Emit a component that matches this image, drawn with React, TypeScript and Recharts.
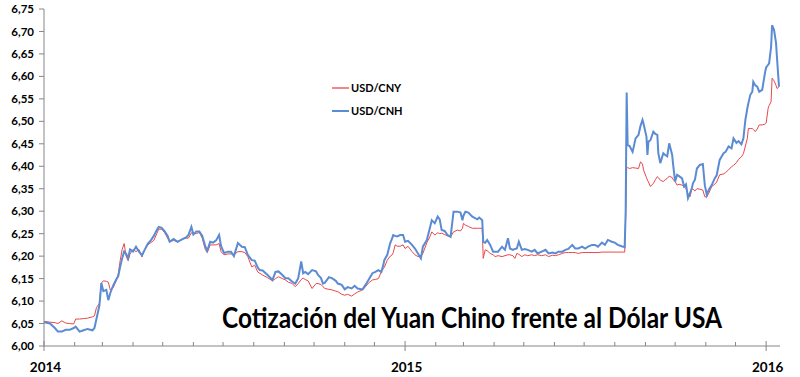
import React from 'react';
import { LineChart, Line, XAxis, YAxis, Legend } from 'recharts';

// days since 2014-01-01
const days = [
  0, 6, 11, 14, 18, 22, 26, 30, 32, 36,
  40, 44, 49, 51, 53, 56, 58, 60, 63, 65,
  67, 70, 73, 75, 77, 79, 81, 83, 85, 87,
  90, 93, 96, 99, 102, 105, 108, 111, 114, 116,
  119, 122, 125, 127, 131, 135, 140, 144, 146, 149,
  151, 154, 157, 160, 163, 165, 168, 171, 174, 177,
  179, 182, 186, 189, 192, 196, 200, 203, 206, 210,
  213, 216, 218, 221, 226, 231, 234, 237, 241, 244,
  247, 251, 254, 257, 260, 262, 264, 267, 271, 275,
  277, 280, 282, 284, 288, 291, 295, 297, 301, 304,
  307, 311, 314, 317, 322, 325, 328, 332, 335, 338,
  341, 343, 344, 347, 350, 352, 353, 355, 357, 360,
  363, 365, 368, 372, 375, 378, 381, 383, 387, 390,
  392, 395, 398, 400, 402, 405, 408, 411, 414, 418,
  421, 423, 424, 426, 429, 433, 438, 440, 443, 444,
  446, 448, 451, 454, 456, 459, 463, 466, 469, 471,
  474, 476, 478, 480, 483, 486, 489, 493, 496, 499,
  503, 507, 510, 514, 517, 520, 524, 527, 530, 534,
  537, 540, 544, 547, 550, 554, 557, 560, 564, 567,
  570, 574, 577, 580, 584, 587, 588, 589, 590, 592,
  595, 598, 601, 603, 605, 606, 609, 610, 611, 613,
  616, 618, 620, 621, 623, 626, 628, 630, 632, 635,
  636, 638, 640, 642, 645, 647, 649, 651, 653, 655,
  656, 658, 660, 663, 666, 668, 670, 672, 675, 678,
  680, 683, 687, 689, 692, 695, 697, 700, 702, 705,
  707, 709, 711, 712, 714, 716, 717, 719, 721, 723,
  726, 729, 730, 732, 733, 735, 736, 738, 740, 741, 743,
];

const cny = [
  6.055, 6.053, 6.052, 6.050, 6.056, 6.051, 6.050, 6.049, 6.060, 6.060,
  6.061, 6.062, 6.065, 6.067, 6.085, 6.095, 6.140, 6.145, 6.144, 6.142,
  6.125, 6.130, 6.145, 6.160, 6.190, 6.215, 6.228, 6.200, 6.190, 6.205,
  6.215, 6.210, 6.215, 6.198, 6.215, 6.225, 6.230, 6.235, 6.250, 6.260,
  6.260, 6.252, 6.240, 6.232, 6.235, 6.232, 6.238, 6.240, 6.240, 6.252,
  6.250, 6.250, 6.253, 6.240, 6.215, 6.208, 6.225, 6.225, 6.225, 6.228,
  6.210, 6.203, 6.205, 6.205, 6.203, 6.210, 6.210, 6.208, 6.199, 6.176,
  6.180, 6.165, 6.162, 6.158, 6.152, 6.145, 6.150, 6.154, 6.150, 6.147,
  6.142, 6.139, 6.132, 6.139, 6.148, 6.151, 6.148, 6.145, 6.128, 6.139,
  6.139, 6.137, 6.132, 6.128, 6.126, 6.125, 6.122, 6.121, 6.115, 6.113,
  6.115, 6.111, 6.116, 6.120, 6.125, 6.132, 6.140, 6.147, 6.148, 6.150,
  6.165, 6.172, 6.175, 6.191, 6.200, 6.203, 6.208, 6.225, 6.222, 6.222,
  6.225, 6.217, 6.222, 6.210, 6.203, 6.199, 6.199, 6.206, 6.230, 6.243,
  6.254, 6.247, 6.252, 6.250, 6.251, 6.248, 6.245, 6.243, 6.254, 6.258,
  6.256, 6.262, 6.273, 6.269, 6.266, 6.262, 6.262, 6.262, 6.262, 6.195,
  6.214, 6.212, 6.206, 6.203, 6.199, 6.201, 6.199, 6.201, 6.203, 6.203,
  6.201, 6.195, 6.206, 6.204, 6.199, 6.203, 6.201, 6.203, 6.201, 6.203,
  6.201, 6.203, 6.199, 6.202, 6.201, 6.203, 6.206, 6.208, 6.208, 6.208,
  6.208, 6.206, 6.208, 6.208, 6.208, 6.208, 6.208, 6.208, 6.209, 6.209,
  6.209, 6.209, 6.209, 6.209, 6.209, 6.209, 6.290, 6.395, 6.397, 6.395,
  6.397, 6.396, 6.395, 6.410, 6.405, 6.392, 6.375, 6.369, 6.365, 6.355,
  6.362, 6.370, 6.377, 6.375, 6.369, 6.366, 6.370, 6.373, 6.378, 6.375,
  6.370, 6.366, 6.358, 6.360, 6.358, 6.355, 6.350, 6.338, 6.332, 6.350,
  6.349, 6.345, 6.350, 6.349, 6.347, 6.332, 6.332, 6.340, 6.355, 6.360,
  6.365, 6.381, 6.383, 6.386, 6.392, 6.399, 6.402, 6.408, 6.415, 6.421,
  6.428, 6.445, 6.462, 6.484, 6.484, 6.484, 6.482, 6.477, 6.483, 6.492,
  6.492, 6.494, 6.496, 6.529, 6.535, 6.544, 6.596, 6.590, 6.580, 6.573, 6.577,
];

const cnh = [
  6.053, 6.050, 6.040, 6.032, 6.032, 6.036, 6.036, 6.040, 6.043, 6.032,
  6.035, 6.038, 6.035, 6.040, 6.060, 6.090, 6.140, 6.122, 6.125, 6.102,
  6.118, 6.135, 6.148, 6.155, 6.176, 6.195, 6.210, 6.205, 6.195, 6.215,
  6.210, 6.221, 6.210, 6.202, 6.215, 6.228, 6.235, 6.245, 6.258, 6.265,
  6.263, 6.255, 6.245, 6.232, 6.238, 6.232, 6.238, 6.242, 6.247, 6.265,
  6.248, 6.255, 6.255, 6.245, 6.222, 6.212, 6.232, 6.230, 6.235, 6.247,
  6.222, 6.207, 6.210, 6.210, 6.200, 6.229, 6.221, 6.220, 6.203, 6.191,
  6.190, 6.175, 6.169, 6.168, 6.158, 6.147, 6.165, 6.166, 6.158, 6.151,
  6.151, 6.143, 6.139, 6.151, 6.188, 6.162, 6.165, 6.160, 6.169, 6.166,
  6.158, 6.151, 6.139, 6.141, 6.153, 6.151, 6.145, 6.139, 6.136, 6.126,
  6.131, 6.128, 6.134, 6.128, 6.126, 6.136, 6.147, 6.162, 6.165, 6.169,
  6.165, 6.180, 6.191, 6.203, 6.229, 6.240, 6.247, 6.245, 6.244, 6.247,
  6.247, 6.232, 6.234, 6.225, 6.217, 6.206, 6.195, 6.221, 6.236, 6.262,
  6.280, 6.273, 6.288, 6.282, 6.258, 6.256, 6.247, 6.243, 6.299, 6.299,
  6.297, 6.280, 6.290, 6.299, 6.297, 6.288, 6.282, 6.286, 6.280, 6.232,
  6.230, 6.236, 6.225, 6.210, 6.210, 6.210, 6.221, 6.214, 6.240, 6.217,
  6.214, 6.216, 6.217, 6.232, 6.214, 6.216, 6.214, 6.210, 6.214, 6.206,
  6.210, 6.214, 6.206, 6.208, 6.206, 6.210, 6.210, 6.214, 6.216, 6.225,
  6.217, 6.217, 6.221, 6.217, 6.221, 6.225, 6.225, 6.221, 6.230, 6.225,
  6.236, 6.232, 6.230, 6.225, 6.222, 6.220, 6.300, 6.564, 6.447, 6.445,
  6.432, 6.462, 6.470, 6.490, 6.503, 6.495, 6.466, 6.425, 6.455, 6.458,
  6.477, 6.472, 6.470, 6.429, 6.407, 6.429, 6.425, 6.422, 6.451, 6.425,
  6.403, 6.366, 6.381, 6.378, 6.373, 6.355, 6.360, 6.329, 6.340, 6.352,
  6.362, 6.370, 6.395, 6.403, 6.405, 6.358, 6.336, 6.348, 6.358, 6.373,
  6.380, 6.414, 6.429, 6.432, 6.444, 6.440, 6.462, 6.452, 6.456, 6.449,
  6.462, 6.503, 6.529, 6.540, 6.559, 6.566, 6.588, 6.580, 6.577, 6.566,
  6.570, 6.610, 6.620, 6.626, 6.629, 6.666, 6.714, 6.703, 6.674, 6.640, 6.577,
];

const seriesNames = ['USD/CNY', 'USD/CNH'];
const yearLabels = ['2014', '2015', '2016'];
const yTicks = [6.0, 6.05, 6.1, 6.15, 6.2, 6.25, 6.3, 6.35, 6.4, 6.45, 6.5, 6.55, 6.6, 6.65, 6.7, 6.75];
const titleText = 'Cotización del Yuan Chino frente al Dólar USA';

const RED = '#E8474C';
const BLUE = '#5B8BD3';
const AXIS = '#868686';
const FONT = 'Lato, "Open Sans", sans-serif';

const rows = days.map((d, i) => ({ day: d, cny: cny[i], cnh: cnh[i] }));

const base = Date.UTC(2014, 0, 1);
const monthTicks = Array.from({ length: 25 }, (_, i) =>
  Math.round((Date.UTC(2014 + Math.floor(i / 12), i % 12, 1) - base) / 86400000)
);

const XTick = (props: any) => {
  const { x, y, payload } = props;
  const idx = monthTicks.indexOf(payload.value);
  const major = idx % 12 === 0;
  return (
    <g>
      <line x1={x} x2={x} y1={major ? y - 5 : y - 4} y2={major ? y + 5 : y} stroke={AXIS} strokeWidth={1} />
      {major && (
        <text x={x + 1.5} y={y + 26} textAnchor="middle" fontFamily={FONT} fontWeight={700} fontSize={13.5} fill="#000">
          {yearLabels[idx / 12]}
        </text>
      )}
    </g>
  );
};

const LegendContent = () => {
  const colors = [RED, BLUE];
  const widths = [1.3, 2];
  return (
    <div style={{ position: 'relative', width: 90, height: 40 }}>
      {seriesNames.map((name, i) => (
        <div
          key={name}
          style={{ position: 'absolute', left: 0, top: i * 22.5, height: 12, display: 'flex', alignItems: 'center' }}
        >
          <svg width={17} height={12} style={{ display: 'block' }}>
            <line x1={0} x2={17} y1={6} y2={6} stroke={colors[i]} strokeWidth={widths[i]} />
          </svg>
          <span style={{ fontFamily: FONT, fontWeight: 700, fontSize: 11, color: '#000', marginLeft: 2, lineHeight: '12px', whiteSpace: 'nowrap' }}>
            {name}
          </span>
        </div>
      ))}
    </div>
  );
};

export default function App() {
  return (
    <div style={{ position: 'absolute', left: 0, top: 0, width: 800, height: 377, background: '#fff' }}>
      <LineChart width={800} height={377} data={rows} margin={{ top: 9, right: 20, bottom: 1, left: 0 }}>
        <XAxis
          dataKey="day"
          type="number"
          domain={[0, 744]}
          ticks={monthTicks}
          interval={0}
          tick={<XTick />}
          tickLine={false}
          tickSize={0}
          tickMargin={0}
          height={30}
          stroke={AXIS}
          allowDataOverflow
        />
        <YAxis
          type="number"
          domain={[6, 6.75]}
          ticks={yTicks}
          interval={0}
          width={44}
          stroke={AXIS}
          tickSize={5}
          tickMargin={5}
          tickFormatter={(v: number) => v.toFixed(2).replace('.', ',')}
          tick={{ fill: '#000', fontSize: 11.5, fontWeight: 700, fontFamily: FONT }}
          allowDataOverflow
        />
        <Legend
          layout="vertical"
          align="center"
          verticalAlign="middle"
          content={<LegendContent />}
          wrapperStyle={{ position: 'absolute', left: 332, top: 82, width: 90, height: 40 }}
        />
        <Line
          type="linear"
          dataKey="cny"
          name={seriesNames[0]}
          stroke={RED}
          strokeWidth={1}
          dot={false}
          isAnimationActive={false}
        />
        <Line
          type="linear"
          dataKey="cnh"
          name={seriesNames[1]}
          stroke={BLUE}
          strokeWidth={2}
          dot={false}
          isAnimationActive={false}
        />
      </LineChart>
      <svg width={800} height={377} style={{ position: 'absolute', left: 0, top: 0, pointerEvents: 'none' }}>
        <text
          x={222}
          y={328}
          fontFamily={FONT}
          fontWeight={700}
          fontSize={28}
          fill="#000"
          textLength={500}
          lengthAdjust="spacingAndGlyphs"
        >
          {titleText}
        </text>
      </svg>
    </div>
  );
}
